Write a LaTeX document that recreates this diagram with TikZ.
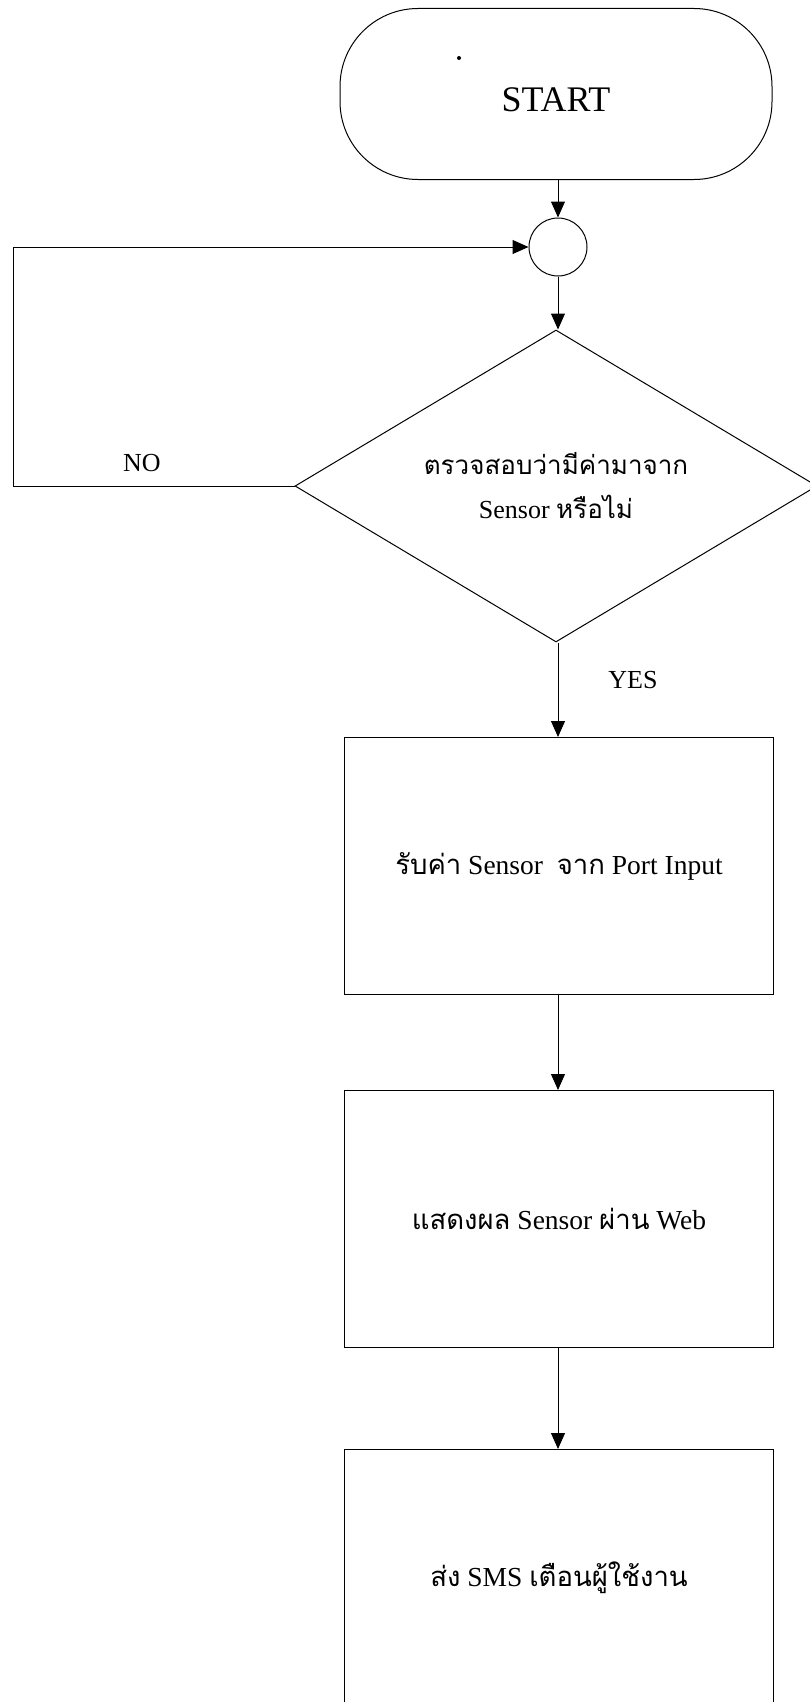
\documentclass[tikz,border=0pt]{standalone}
\usepackage{fontspec}
\setmainfont{Liberation Serif}
\newfontfamily\thaifont[Script=Thai]{Loma}
\usetikzlibrary{shapes.geometric,arrows.meta}
\newcommand{\thai}[1]{{\thaifont #1}}

\begin{document}
\begin{tikzpicture}[x=1pt,y=-1pt,
  line/.style={draw, line width=1pt},
  flow/.style={line, -{Triangle[length=16pt,width=14pt]}},
  procbox/.style={line, minimum width=429pt, minimum height=257pt, inner sep=0pt, font=\fontsize{27.5}{32}\selectfont}]
\useasboundingbox (0,0) rectangle (809,1702);
% start, connector, decision
\node[line, rounded corners=78pt, minimum width=432pt, minimum height=171pt, text height=35pt, text depth=0pt, font=\fontsize{36}{40}\selectfont] (start) at (556,94) {START};
\fill (459,58) circle (2pt);
\node[line, circle, minimum size=58pt, inner sep=0pt] (junction) at (558,247) {};
\node[line, diamond, aspect=1.667, minimum width=522pt, minimum height=312pt, inner sep=0pt, align=center, font=\fontsize{26}{44}\selectfont] (check) at (556,486) {\thai{ตรวจสอบว่ามีค่ามาจาก}\\Sensor \thai{หรือไม่}};
% process boxes
\node[procbox] (readin) at (559,866) {\thai{รับค่า} Sensor\ \ \thai{จาก} Port Input};
\node[procbox] (showweb) at (559,1219) {\thai{แสดงผล} Sensor \thai{ผ่าน} Web};
\node[procbox] (sendsms) at (559,1578) {\thai{ส่ง} SMS \thai{เตือนผู้ใช้งาน}};
\coordinate (loopx) at (13,0);
% connectors
\draw[flow] (start.south -| junction) -- (junction);
\draw[flow] (junction) -- (check.north -| junction);
\draw[flow] (check.south -| junction) -- (readin.north -| junction);
\draw[flow] (readin.south -| junction) -- (showweb.north -| junction);
\draw[flow] (showweb.south -| junction) -- (sendsms.north -| junction);
\draw[flow] (check.west) -- (check.west -| loopx) |- (junction.west);
\node[font=\fontsize{26}{28}\selectfont] (nolabel) at (142,463) {NO};
\node[font=\fontsize{26}{28}\selectfont] (yeslabel) at (633,680) {YES};
\end{tikzpicture}
\end{document}
